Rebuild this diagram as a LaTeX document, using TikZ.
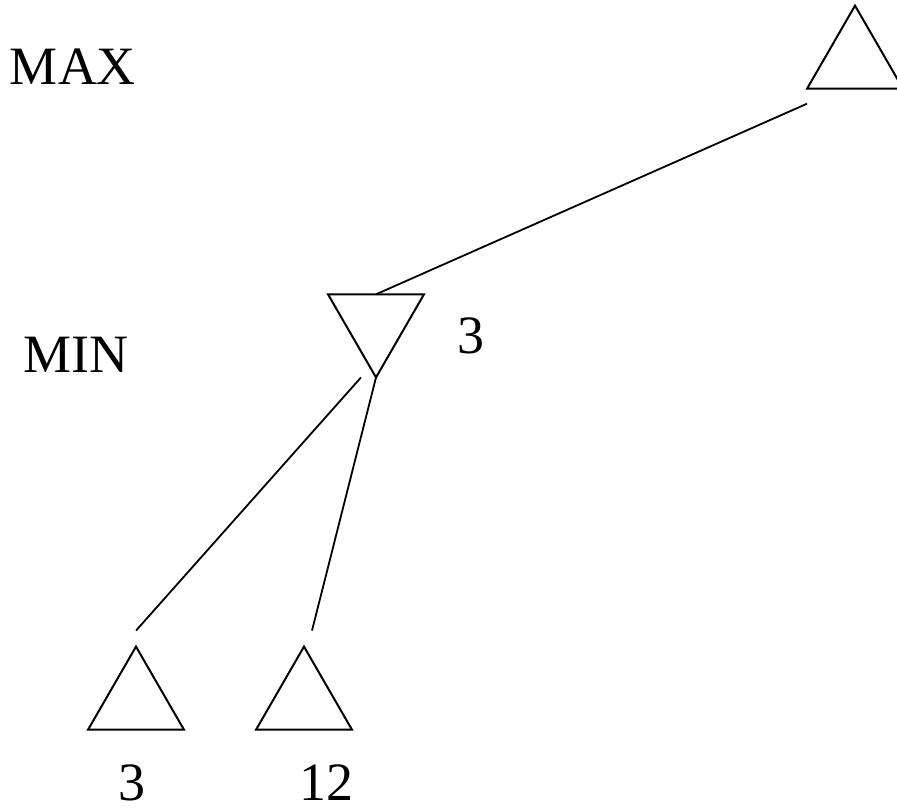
\documentclass[tikz,border=0pt]{standalone}
\usepackage{fontspec}
\setmainfont{Liberation Serif}
\usetikzlibrary{shapes.geometric, positioning}

\begin{document}
\begin{tikzpicture}[
    x=0.5pt, y=-0.5pt,
    font=\fontsize{27}{32}\selectfont,
    maxnode/.style={
        regular polygon,
        regular polygon sides=3,
        draw,
        line width=1pt,
        minimum size=55.4pt,
        inner sep=0pt,
        outer sep=0pt
    },
    minnode/.style={maxnode, shape border rotate=180},
    edge/.style={line width=0.9pt}
]
\useasboundingbox (0,0) rectangle (897,810);

% level labels
\node (maxlbl) at (73,67) {MAX};
\node (minlbl) at (76,355) {MIN};

% tree
\node[maxnode] (root) at (855,61) {};
\node[minnode] (mn) at (376,322) {};
\node[maxnode] (leafa) at (136,702) {};
\node[maxnode] (leafb) at (304,702) {};

% values
\node (vmn) at (471,336) {3};
\node (va) at (132,783) {3};
\node (vb) at (326,783) {12};

\draw[edge] ([shift={(0,15)}]root.corner 2) -- (mn.north);
\draw[edge] ([shift={(-15,0)}]mn.corner 1) -- ([shift={(0,-16)}]leafa.corner 1);
\draw[edge] (mn.corner 1) -- ([shift={(8,-16)}]leafb.corner 1);

\end{tikzpicture}
\end{document}
